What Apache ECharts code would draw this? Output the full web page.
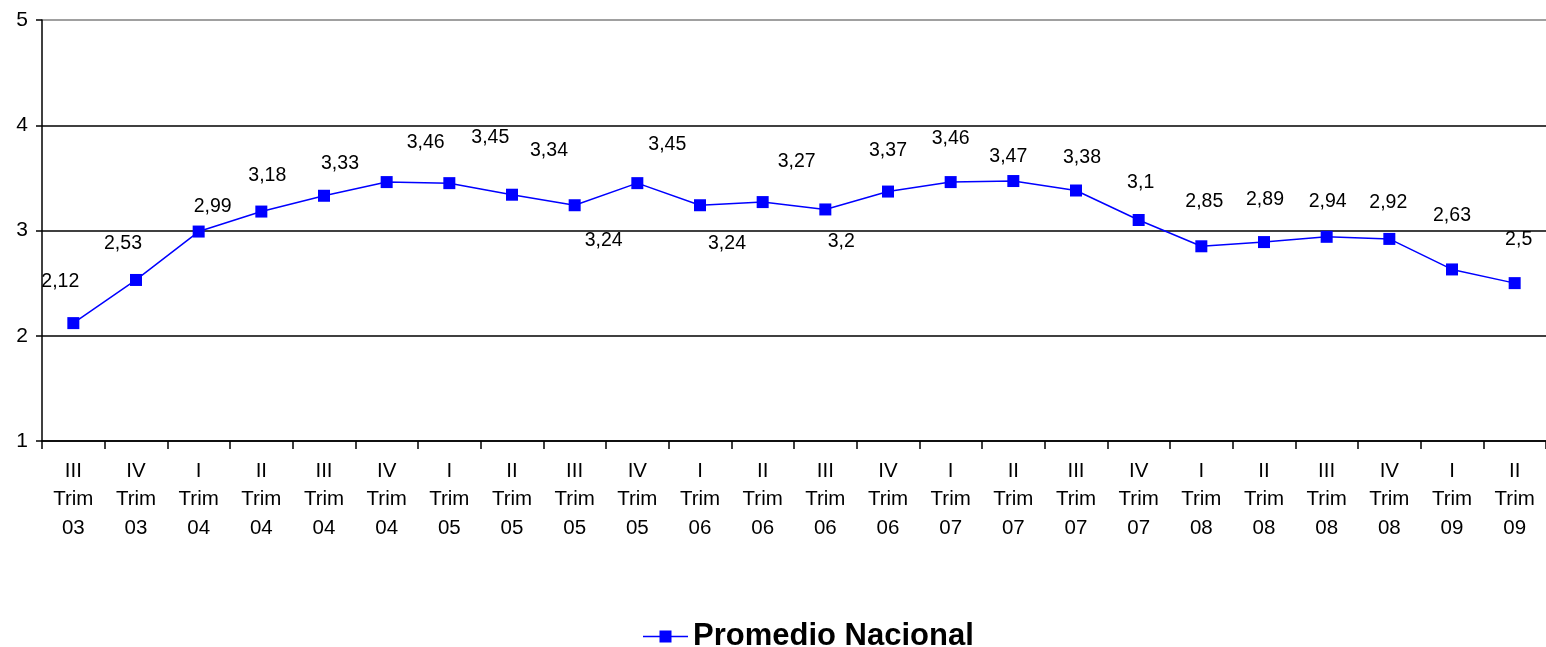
<!DOCTYPE html>
<html>
<head>
<meta charset="utf-8">
<script src="https://cdn.jsdelivr.net/npm/echarts@6/dist/echarts.min.js"></script>
<style>html,body{margin:0;padding:0;background:#fff}#c{width:1546px;height:647px}</style>
</head>
<body>
<div id="c"></div>
<script>
const quarters = ['III','IV','I','II','III','IV','I','II','III','IV','I','II','III','IV','I','II','III','IV','I','II','III','IV','I','II'];
const years = ['03','03','04','04','04','04','05','05','05','05','06','06','06','06','07','07','07','07','08','08','08','08','09','09'];
const values = [2.12,2.53,2.99,3.18,3.33,3.46,3.45,3.34,3.24,3.45,3.24,3.27,3.2,3.37,3.46,3.47,3.38,3.1,2.85,2.89,2.94,2.92,2.63,2.5];
const seriesName = 'Promedio Nacional';
const yTicks = [1,2,3,4,5];
// label nudges (pixels) relative to each point
const labelDx = [-13,-13,14,6,16,39,41,37,29,30,27,34,16,0,0,-5,6,2,3,1,1,-1,0,4];
const labelDy = [-41,-36,-25,-36,-32,-39,-46,-44,35,-39,38,-40,32,-41,-43,-24,-33,-37,-45,-42,-35,-36,-54,-44];

const categories = quarters.map((q,i)=>q+'\nTrim\n'+years[i]);
const fmt = v => String(v).replace('.',',');
const data = values.map((v,i)=>({value:v,label:{offset:[labelDx[i],labelDy[i]]}}));
const FF = 'Liberation Sans, Arial, sans-serif';

const chart = echarts.init(document.getElementById('c'),null,{renderer:'canvas'});
chart.setOption({
  animation:false,
  textStyle:{fontFamily:FF},
  grid:{left:42,right:0,top:20,bottom:206,containLabel:false},
  legend:{
    top:616,left:638,
    itemWidth:45,itemHeight:12,itemGap:10,
    icon:'path://M0,5.3 L16.5,5.3 L16.5,0 L28.5,0 L28.5,5.3 L45,5.3 L45,6.7 L28.5,6.7 L28.5,12 L16.5,12 L16.5,6.7 L0,6.7 Z',
    textStyle:{fontSize:31,fontWeight:'bold',color:'#000',fontFamily:FF},
    data:[seriesName]
  },
  xAxis:{
    type:'category',data:categories,boundaryGap:true,
    axisLine:{lineStyle:{color:'#000',width:1.5}},
    axisTick:{show:true,length:8,lineStyle:{color:'#000',width:1.5}},
    axisLabel:{color:'#000',fontSize:20.5,lineHeight:28.5,margin:16,interval:0,fontFamily:FF}
  },
  yAxis:{
    type:'value',min:yTicks[0],max:yTicks[yTicks.length-1],interval:1,
    axisLine:{show:true,lineStyle:{color:'#000',width:1.5}},
    axisTick:{show:true,length:6,lineStyle:{color:'#000',width:1.5}},
    axisLabel:{color:'#000',fontSize:21,margin:14,fontFamily:FF},
    splitLine:{show:true,lineStyle:{color:['#000','#000','#000','#000','#808080'],width:1.5}}
  },
  series:[{
    name:seriesName,type:'line',data:data,
    symbol:'rect',symbolSize:12,
    lineStyle:{color:'#0000ff',width:1.5},
    itemStyle:{color:'#0000ff'},
    label:{show:true,position:'inside',color:'#000',fontSize:19.5,
      fontFamily:FF,
      formatter:p=>fmt(p.value)}
  }]
});
</script>
</body>
</html>
